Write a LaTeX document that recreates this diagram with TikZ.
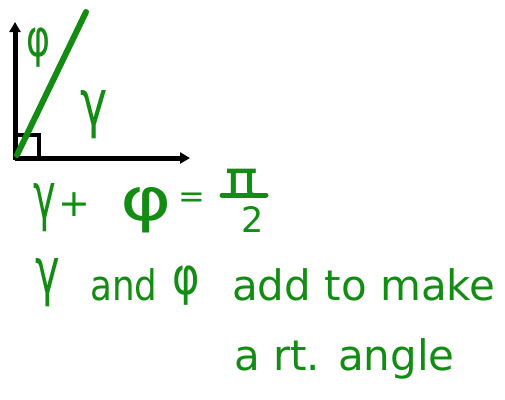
\documentclass[tikz,border=0pt]{standalone}
\usepackage{fontspec}
\setmainfont{DejaVu Sans}
\usetikzlibrary{arrows.meta}
\definecolor{ink}{RGB}{18,140,18}
\newcommand{\fs}[1]{\fontsize{#1}{#1}\selectfont}
\tikzset{
  axis/.style={line width=5pt,-{Triangle[length=10pt,width=11pt]}},
  pen/.style={text=ink,inner sep=0pt,font=\fs{42}},
  glyph/.style={text=ink,inner sep=0pt},
  stroke/.style={draw=ink,line width=5pt,line cap=round},
}
\begin{document}
\begin{tikzpicture}[x=1pt,y=-1pt]
\useasboundingbox (0,0) rectangle (505,399);
\coordinate (O) at (15,158);
\coordinate (Y) at (15,22);
\coordinate (X) at (190,158);
\coordinate (L1) at (17,155);
\coordinate (L2) at (86,12);
\draw[line width=4.5pt] (15,135) rectangle (39,158);
\draw[axis] (O) -- (Y);
\draw[axis] (O) -- (X);
\draw[stroke,line width=6pt] (L1) -- (L2);
\node[glyph,font=\fs{52}] (phi) at (39,48) {\scalebox{0.7}[1]{φ}};
\node[glyph,font=\fs{64}] (gam) at (94,115) {\scalebox{0.72}[1]{γ}};
% equation
\node[glyph,font=\fs{64}] (g1) at (45,208) {\scalebox{0.6}[1]{γ}};
\node[glyph,font=\fs{38}] (plus) at (74,205) {+};
\node[glyph,font=\fs{60}] (p1) at (146,210) {\scalebox{1.3}[1]{φ}};
\node[glyph,font=\fs{32}] (eq) at (192,200) {=};
\node[glyph,font=\fs{50}] (pi) at (242,183) {\scalebox{1.1}[1]{π}};
\coordinate (b1) at (222,195);
\coordinate (b2) at (266,195);
\draw[stroke] (b1) -- (b2);
\node[glyph,font=\fs{35}] (two) at (253,220) {2};
% sentence
\node[glyph,font=\fs{64}] (g2) at (48,283) {\scalebox{0.65}[1]{γ}};
\node[pen,anchor=base west] (and) at (90,300) {\scalebox{0.85}[1]{and}};
\node[glyph,font=\fs{52}] (p2) at (186,286) {\scalebox{0.8}[1]{φ}};
\node[pen,anchor=base west] (add) at (232,300) {add to make};
\node[pen,anchor=base west] (rt) at (234,370) {a rt. angle};
\end{tikzpicture}
\end{document}
